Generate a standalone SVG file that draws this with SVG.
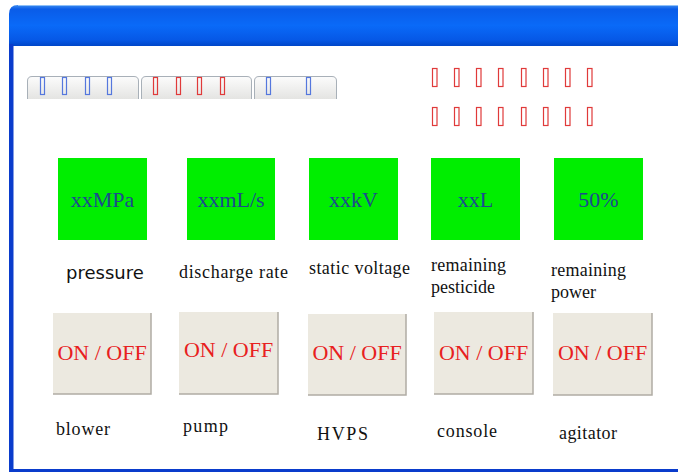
<svg xmlns="http://www.w3.org/2000/svg" width="678" height="472" viewBox="0 0 678 472">
<defs>
<linearGradient id="tb" x1="0" y1="0" x2="0" y2="1">
<stop offset="0" stop-color="#3d8cf0"/>
<stop offset="0.1" stop-color="#0a5ce8"/>
<stop offset="0.5" stop-color="#0a6af8"/>
<stop offset="0.85" stop-color="#0658e6"/>
<stop offset="1" stop-color="#0046c8"/>
</linearGradient>
<linearGradient id="tab" x1="0" y1="0" x2="0" y2="1">
<stop offset="0" stop-color="#fcfcfc"/>
<stop offset="1" stop-color="#e4e4e2"/>
</linearGradient>
<style>
.val{font-family:'Liberation Serif','Times New Roman','DejaVu Serif',serif;font-size:22px;fill:#1d4a8e;text-anchor:middle}
.lbl{font-family:'Liberation Serif','Times New Roman','DejaVu Serif',serif;font-size:18px;fill:#111}
.sans{font-family:'DejaVu Sans',sans-serif;font-size:18px;fill:#111}
.onoff{font-family:'Liberation Serif','Times New Roman','DejaVu Serif',serif;font-size:22px;fill:#e82020;text-anchor:middle}
.g{fill:#00ee00}
.btn{fill:#ece9e0}
.sh{fill:none;stroke:#b0aca4;stroke-width:1.5}
.tab{fill:url(#tab);stroke:#a8b0b8;stroke-width:1}
.bb{fill:none;stroke:#5577dd;stroke-width:1.2}
.rb{fill:none;stroke:#e03a3a;stroke-width:1.2}
</style>
</defs>
<rect x="0" y="0" width="678" height="472" fill="#ffffff"/>
<g id="window">
<path d="M9 472 V14 Q9 5 18 5 H678 V472 Z" fill="#ffffff"/>
<path d="M9 46 V14 Q9 5 18 5 H678 V46 Z" fill="url(#tb)"/>
<line x1="18" y1="5.5" x2="678" y2="5.5" stroke="#8ec0f8" stroke-width="1"/>
<rect x="9" y="44" width="4.5" height="428" fill="#0a3ccc"/>
<rect x="9" y="469" width="669" height="3" fill="#0a3ccc"/>
</g>
<g id="tabs">
<path class="tab" d="M27.5 99 V81 Q27.5 76.5 32 76.5 H134 Q138.5 76.5 138.5 81 V99"/>
<path class="tab" d="M141.5 99 V81 Q141.5 76.5 146 76.5 H247 Q251.5 76.5 251.5 81 V99"/>
<path class="tab" d="M254.5 99 V81 Q254.5 76.5 259 76.5 H332 Q336.5 76.5 336.5 81 V99"/>
<rect class="bb" x="40.5" y="77.5" width="4" height="17"/>
<rect class="bb" x="62.5" y="77.5" width="4" height="17"/>
<rect class="bb" x="85.5" y="77.5" width="4" height="17"/>
<rect class="bb" x="107.5" y="77.5" width="4" height="17"/>
<rect class="rb" x="153.5" y="77.5" width="4" height="17"/>
<rect class="rb" x="176.5" y="77.5" width="4" height="17"/>
<rect class="rb" x="197.5" y="77.5" width="4" height="17"/>
<rect class="rb" x="220.5" y="77.5" width="4" height="17"/>
<rect class="bb" x="266.5" y="77.5" width="4" height="17"/>
<rect class="bb" x="306.5" y="77.5" width="4" height="17"/>
</g>
<g id="status">
<rect class="rb" x="432.5" y="68.5" width="4.5" height="18"/>
<rect class="rb" x="454.5" y="68.5" width="4.5" height="18"/>
<rect class="rb" x="476.5" y="68.5" width="4.5" height="18"/>
<rect class="rb" x="498.5" y="68.5" width="4.5" height="18"/>
<rect class="rb" x="521.5" y="68.5" width="4.5" height="18"/>
<rect class="rb" x="543.5" y="68.5" width="4.5" height="18"/>
<rect class="rb" x="565.5" y="68.5" width="4.5" height="18"/>
<rect class="rb" x="587.5" y="68.5" width="4.5" height="18"/>
<rect class="rb" x="432.5" y="107.5" width="4.5" height="18"/>
<rect class="rb" x="454.5" y="107.5" width="4.5" height="18"/>
<rect class="rb" x="476.5" y="107.5" width="4.5" height="18"/>
<rect class="rb" x="498.5" y="107.5" width="4.5" height="18"/>
<rect class="rb" x="521.5" y="107.5" width="4.5" height="18"/>
<rect class="rb" x="543.5" y="107.5" width="4.5" height="18"/>
<rect class="rb" x="565.5" y="107.5" width="4.5" height="18"/>
<rect class="rb" x="587.5" y="107.5" width="4.5" height="18"/>
</g>
<g id="pressure">
<rect class="g" x="58" y="158" width="89" height="82"/>
<text class="val" x="102.5" y="207">xxMPa</text>
<text class="sans" x="66" y="279">pressure</text>
</g>
<g id="discharge-rate">
<rect class="g" x="187" y="158" width="88" height="82"/>
<text class="val" x="231" y="207">xxmL/s</text>
<text class="lbl" x="179" y="278" textLength="109">discharge rate</text>
</g>
<g id="static-voltage">
<rect class="g" x="309" y="158" width="89" height="82"/>
<text class="val" x="353.5" y="207">xxkV</text>
<text class="lbl" x="309" y="274" textLength="101">static voltage</text>
</g>
<g id="remaining-pesticide">
<rect class="g" x="431" y="158" width="89" height="82"/>
<text class="val" x="475.5" y="207">xxL</text>
<text class="lbl" x="431" y="271" textLength="75">remaining</text>
<text class="lbl" x="431" y="293">pesticide</text>
</g>
<g id="remaining-power">
<rect class="g" x="554" y="158" width="89" height="82"/>
<text class="val" x="598.5" y="207">50%</text>
<text class="lbl" x="551" y="276" textLength="75">remaining</text>
<text class="lbl" x="551" y="298">power</text>
</g>
<g id="blower">
<rect class="btn" x="53" y="313" width="98" height="81"/>
<path class="sh" d="M151 313 V394 H53"/>
<text class="onoff" x="102" y="360">ON / OFF</text>
<text class="lbl" x="56" y="435" textLength="54">blower</text>
</g>
<g id="pump">
<rect class="btn" x="179" y="312" width="99" height="82"/>
<path class="sh" d="M278 312 V394 H179"/>
<text class="onoff" x="228.5" y="357">ON / OFF</text>
<text class="lbl" x="183" y="432" textLength="45">pump</text>
</g>
<g id="hvps">
<rect class="btn" x="308" y="314" width="98" height="81"/>
<path class="sh" d="M406 314 V395 H308"/>
<text class="onoff" x="357" y="360">ON / OFF</text>
<text class="lbl" x="317" y="440" textLength="51">HVPS</text>
</g>
<g id="console">
<rect class="btn" x="434" y="312" width="99" height="82"/>
<path class="sh" d="M533 312 V394 H434"/>
<text class="onoff" x="483.5" y="360">ON / OFF</text>
<text class="lbl" x="437" y="437" textLength="60">console</text>
</g>
<g id="agitator">
<rect class="btn" x="553" y="313" width="99" height="82"/>
<path class="sh" d="M652 313 V395 H553"/>
<text class="onoff" x="602.5" y="360">ON / OFF</text>
<text class="lbl" x="559" y="439" textLength="58">agitator</text>
</g>
<g id="connectors"/>
</svg>
